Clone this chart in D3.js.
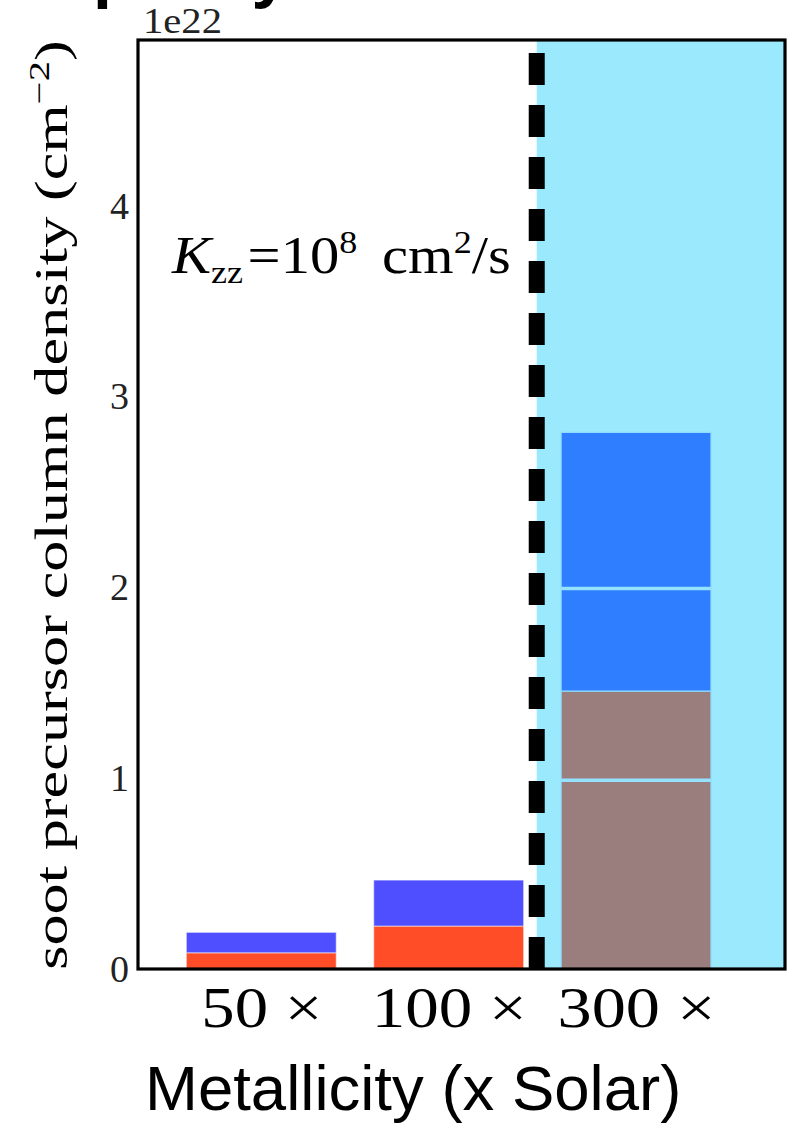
<!DOCTYPE html>
<html>
<head>
<meta charset="utf-8">
<script src="https://cdn.jsdelivr.net/npm/d3@7"></script>
<style>
  html, body { margin: 0; padding: 0; background: #fff; }
  svg { display: block; }
</style>
</head>
<body>
<svg id="chart" width="788" height="1123"></svg>
<script>
// Metallicity cases on the x axis
const categories = ["50", "100", "300"];
// Column densities in units of 1e22 cm^-2
const lowerValues = [0.085, 0.225, 1.457];   // bottom segment of each stack
const totalValues = [0.192, 0.466, 2.813];   // top of each stack
const innerLevels300 = [0.99, 1.995];        // internal divisions of the 300x stack
const yTickValues = [0, 1, 2, 3, 4];
const boundaryValue = 1.47;                  // x position of the dashed divider

const svg = d3.select("#chart");

const plot = { left: 138, right: 785, top: 40, bottom: 969 };
const x = d3.scaleLinear().domain([-0.658, 2.795]).range([plot.left, plot.right]);
const y = d3.scaleLinear().domain([0, 4.87]).range([plot.bottom, plot.top]);
const barWidth = 0.8;

const lowerColor = i => (i === 2 ? "#9a7e7e" : "#ff4d28");
const upperColor = i => (i === 2 ? "#2e7eff" : "#4f4fff");

const serif = "'Liberation Serif', 'DejaVu Serif', serif";
const sans = "'Liberation Sans', Arial, sans-serif";

// Squeeze/stretch a text element along its own baseline so it spans `target` px
function fitWidth(node, target, anchorX) {
  const w = node.getBBox().width;
  const s = target / w;
  d3.select(node).attr("transform",
    `translate(${anchorX},0) scale(${s},1) translate(${-anchorX},0)`);
}

// Title partly above the top edge
svg.append("text")
  .attr("x", 40).attr("y", -5)
  .attr("font-family", sans).attr("font-weight", "bold")
  .attr("font-size", 68).attr("fill", "#000")
  .text("Opacity");

// Shaded high-metallicity region
svg.append("rect")
  .attr("x", x(boundaryValue)).attr("y", plot.top)
  .attr("width", x.range()[1] - x(boundaryValue))
  .attr("height", plot.bottom - plot.top)
  .attr("fill", "#9be9fd");

// Stacked bars
const bars = svg.append("g");
categories.forEach((c, i) => {
  const x0 = x(i - barWidth / 2), x1 = x(i + barWidth / 2);
  const edge = i === 2 ? "#8fdcff" : "rgba(255,255,255,0.45)";
  bars.append("rect")
    .attr("x", x0).attr("width", x1 - x0)
    .attr("y", y(lowerValues[i])).attr("height", y(0) - y(lowerValues[i]))
    .attr("fill", lowerColor(i)).attr("stroke", edge).attr("stroke-width", 1.2);
  bars.append("rect")
    .attr("x", x0).attr("width", x1 - x0)
    .attr("y", y(totalValues[i])).attr("height", y(lowerValues[i]) - y(totalValues[i]))
    .attr("fill", upperColor(i)).attr("stroke", edge).attr("stroke-width", 1.2);
  if (i === 2) {
    innerLevels300.forEach(v => {
      bars.append("line")
        .attr("x1", x0).attr("x2", x1)
        .attr("y1", y(v)).attr("y2", y(v))
        .attr("stroke", "#95e2ff").attr("stroke-width", 3.5);
    });
  }
});

// Dashed divider, dash pattern starting from the bottom
svg.append("line")
  .attr("x1", x(boundaryValue)).attr("x2", x(boundaryValue))
  .attr("y1", y(0)).attr("y2", plot.top + 1)
  .attr("stroke", "#000").attr("stroke-width", 16)
  .attr("stroke-dasharray", "32 20");

// Frame
svg.append("rect")
  .attr("x", plot.left).attr("y", plot.top)
  .attr("width", plot.right - plot.left).attr("height", plot.bottom - plot.top)
  .attr("fill", "none").attr("stroke", "#000").attr("stroke-width", 3.2);

// Y axis
const yAxis = svg.append("g")
  .attr("transform", `translate(${plot.left},0)`)
  .call(d3.axisLeft(y).tickValues(yTickValues).tickSize(0).tickPadding(9).tickFormat(d3.format("d")));
yAxis.select(".domain").remove();
yAxis.selectAll("text")
  .attr("font-family", serif).attr("font-size", 38).attr("fill", "#222");

// Offset label
const off = svg.append("text")
  .attr("x", 143).attr("y", 33)
  .attr("font-family", serif).attr("font-size", 36).attr("fill", "#222")
  .text("1e22");
fitWidth(off.node(), 79, 143);

// X axis
const xAxis = svg.append("g")
  .attr("transform", `translate(0,${plot.bottom})`)
  .call(d3.axisBottom(x).tickValues([0, 1, 2]).tickSize(0)
    .tickFormat(i => categories[i] + " \u00d7"));
xAxis.select(".domain").remove();
const xWidths = [121, 155, 158];
xAxis.selectAll("text")
  .attr("font-family", serif).attr("font-size", 58).attr("fill", "#000")
  .attr("y", 58).attr("dy", 0)
  .each(function (d, k) { fitWidth(this, xWidths[k], 0); });

// X axis title
svg.append("text")
  .attr("x", 145).attr("y", 1110)
  .attr("font-family", sans).attr("font-size", 63.5).attr("fill", "#000")
  .text("Metallicity (x Solar)");

// Y axis title (rotated)
const yTitleG = svg.append("g").attr("transform", "translate(67,505) rotate(-90)");
const yTitle = yTitleG.append("text")
  .attr("x", 0).attr("y", 0).attr("text-anchor", "middle")
  .attr("font-family", serif).attr("font-size", 46).attr("fill", "#000");
yTitle.append("tspan").text("soot precursor column density (cm");
yTitle.append("tspan").attr("font-size", 30).attr("dy", -18).text("\u22122");
yTitle.append("tspan").attr("dy", 18).text(")");
fitWidth(yTitle.node(), 930, 0);

// Diffusion coefficient annotation
const ann = svg.append("text")
  .attr("x", 172).attr("y", 273)
  .attr("font-family", serif).attr("font-size", 52).attr("fill", "#000");
ann.append("tspan").attr("font-style", "italic").text("K");
ann.append("tspan").attr("font-size", 32).attr("dy", 10).text("zz");
ann.append("tspan").attr("dy", -10).attr("dx", 4).text("=10");
ann.append("tspan").attr("font-size", 32).attr("dy", -20).text("8");
ann.append("tspan").attr("dy", 20).attr("dx", 22).text("cm");
ann.append("tspan").attr("font-size", 32).attr("dy", -20).text("2");
ann.append("tspan").attr("dy", 20).text("/s");
fitWidth(ann.node(), 340, 172);
</script>
</body>
</html>
